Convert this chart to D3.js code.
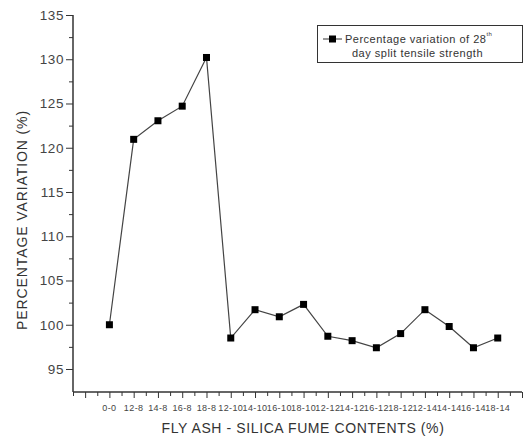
<!DOCTYPE html>
<html>
<head>
<meta charset="utf-8">
<script src="https://cdn.jsdelivr.net/npm/d3@7"></script>
<style>
  body { margin: 0; background: #fff; }
  svg { display: block; font-family: Arial, "Liberation Sans", sans-serif; }
</style>
</head>
<body>
<div id="chart"></div>
<script>
// fly ash - silica fume mixes, in plotting order
var categories = ["0-0", "12-8", "14-8", "16-8", "18-8",
  "12-10", "14-10", "16-10", "18-10",
  "12-12", "14-12", "16-12", "18-12",
  "12-14", "14-14", "16-14", "18-14"];
// percentage variation of 28th day split tensile strength
var values = [100, 120.95, 123.05, 124.7, 130.2,
  98.5, 101.7, 100.9, 102.3,
  98.7, 98.2, 97.4, 99.0,
  101.7, 99.8, 97.4, 98.5];
var yTicks = [95, 100, 105, 110, 115, 120, 125, 130, 135];

var width = 525, height = 438;
var svg = d3.select("#chart").append("svg")
  .attr("width", width).attr("height", height);

// category i sits at x = i + 1 on a numeric axis
var x = d3.scaleLinear().domain([-0.5, 18]).range([73, 522]);
var y = d3.scaleLinear().domain([92.4, 135]).range([392, 15]);

var axisCol = "#333";

// y axis: major ticks every 5, minor every 2.5
var yAxis = svg.append("g").attr("transform", "translate(73,0)")
  .call(d3.axisLeft(y).tickValues(yTicks).tickSize(7).tickPadding(2));
yAxis.select(".domain").remove();
yAxis.selectAll(".tick line").attr("stroke", axisCol);
yAxis.selectAll(".tick text").attr("fill", "#444").style("font-size", "13.5px")
  .style("letter-spacing", "0.6px");
svg.append("g").attr("transform", "translate(73,0)")
  .call(d3.axisLeft(y).tickValues(d3.range(97.5, 135, 5)).tickSize(4).tickFormat(""))
  .call(g => g.select(".domain").remove())
  .selectAll("line").attr("stroke", axisCol);

// x axis: major tick at each integer, minor at halves
var xAxis = svg.append("g").attr("transform", "translate(0,392)")
  .call(d3.axisBottom(x).tickValues(d3.range(0, 19)).tickSize(6).tickFormat(""));
xAxis.select(".domain").remove();
xAxis.selectAll("line").attr("stroke", axisCol);
svg.append("g").attr("transform", "translate(0,392)")
  .call(d3.axisBottom(x).tickValues(d3.range(-0.5, 18, 1)).tickSize(4).tickFormat(""))
  .call(g => g.select(".domain").remove())
  .selectAll("line").attr("stroke", axisCol);

svg.append("g").selectAll("text").data(categories).enter().append("text")
  .attr("x", (d, i) => x(i + 1))
  .attr("y", 411)
  .attr("text-anchor", "middle")
  .attr("fill", "#444")
  .style("font-size", "9px")
  .style("letter-spacing", "0.4px")
  .text(d => d);

// axis lines
svg.append("line").attr("x1", 73).attr("x2", 73).attr("y1", 15).attr("y2", 392)
  .attr("stroke", axisCol).attr("stroke-width", 1.5);
svg.append("line").attr("x1", 73).attr("x2", 522).attr("y1", 392).attr("y2", 392)
  .attr("stroke", axisCol).attr("stroke-width", 1.5);

// titles
svg.append("text")
  .attr("transform", "translate(27,220) rotate(-90)")
  .attr("text-anchor", "middle")
  .attr("fill", "#333")
  .style("font-size", "14px")
  .style("letter-spacing", "0.9px")
  .text("PERCENTAGE VARIATION (%)");
svg.append("text")
  .attr("x", 303).attr("y", 433)
  .attr("text-anchor", "middle")
  .attr("fill", "#333")
  .style("font-size", "14px")
  .style("letter-spacing", "0.6px")
  .text("FLY ASH - SILICA FUME CONTENTS (%)");

// the series
var line = d3.line().x((d, i) => x(i + 1)).y(d => y(d));
svg.append("path").datum(values)
  .attr("d", line)
  .attr("fill", "none")
  .attr("stroke", "#444")
  .attr("stroke-width", 1.2);
svg.append("g").selectAll("rect").data(values).enter().append("rect")
  .attr("x", (d, i) => x(i + 1) - 3.5)
  .attr("y", d => y(d) - 3.5)
  .attr("width", 7).attr("height", 7)
  .attr("fill", "#000");

// legend
var lg = svg.append("g");
lg.append("rect").attr("x", 317.5).attr("y", 25.5).attr("width", 205).attr("height", 37)
  .attr("fill", "#fff").attr("stroke", "#333");
lg.append("line").attr("x1", 323).attr("x2", 342).attr("y1", 39).attr("y2", 39)
  .attr("stroke", "#333");
lg.append("rect").attr("x", 329).attr("y", 35.5).attr("width", 7).attr("height", 7).attr("fill", "#000");
var t1 = lg.append("text").attr("x", 345).attr("y", 43).attr("fill", "#333")
  .style("font-size", "11px").style("letter-spacing", "0.5px");
t1.append("tspan").text("Percentage variation of 28");
t1.append("tspan").attr("dy", -7).style("font-size", "6px").text("th");
lg.append("text").attr("x", 352).attr("y", 57).attr("fill", "#333")
  .style("font-size", "11px").style("letter-spacing", "0.5px")
  .text("day split tensile strength");
</script>
</body>
</html>
